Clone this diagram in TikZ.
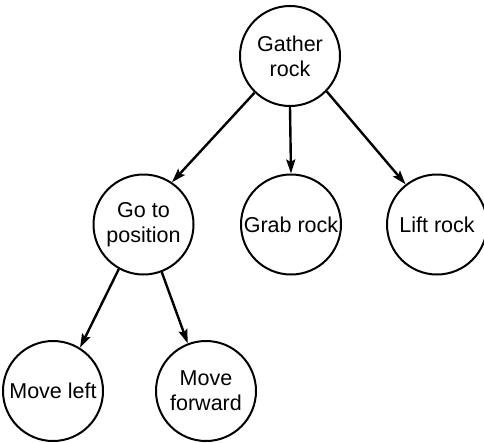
\documentclass[tikz,border=0pt]{standalone}
\usepackage{fontspec}
\setmainfont{Liberation Sans}
\usetikzlibrary{arrows.meta}
\begin{document}
\begin{tikzpicture}[x=1pt,y=-1pt,
  task/.style={circle,draw,line width=2pt,minimum size=100pt,inner sep=0pt,
    align=center,font=\fontsize{21.5}{25}\selectfont},
  link/.style={line width=2.4pt,-{Stealth[length=14pt,width=9pt,inset=2.5pt]}}]
\useasboundingbox (0,0) rectangle (484,442);
\node[task] (gather) at (290,56) {Gather\\rock};
\node[task] (goto) at (143.5,224.5) {Go to\\position};
\node[task] (grab) at (291,224.5) {Grab rock};
\node[task] (lift) at (437,224.5) {Lift rock};
\node[task] (left) at (53,391) {Move left};
\node[task] (fwd) at (206,391) {Move\\forward};
\draw[link] (gather.226) -- (goto.56);
\draw[link] (gather.south) -- (grab.north);
\draw[link] (gather.316) -- (lift.128);
\draw[link] (goto.241) -- (left.58);
\draw[link] (goto.291) -- (fwd.111);
\end{tikzpicture}
\end{document}
